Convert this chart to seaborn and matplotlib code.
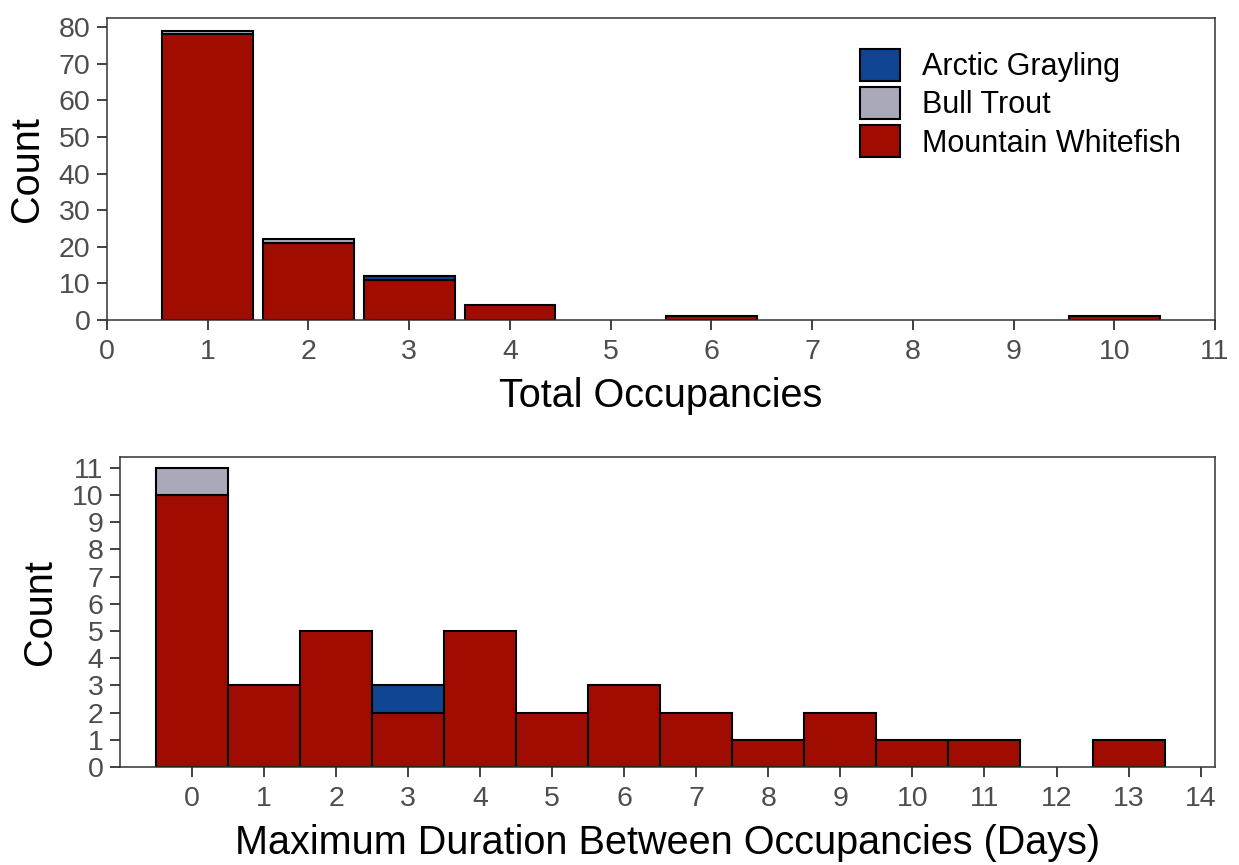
import matplotlib
matplotlib.use("Agg")
import matplotlib.pyplot as plt
import seaborn as sns
import pandas as pd
from matplotlib.patches import Patch

# ---- data ----
species = ["Arctic Grayling", "Bull Trout", "Mountain Whitefish"]
colors = ["#0F4592", "#A9A9BA", "#A00D00"]

occ_values = [1, 2, 3, 4, 6, 10]
occ_mw = [78, 21, 11, 4, 1, 1]
occ_bt = [1, 1, 0, 0, 0, 0]
occ_ag = [0, 0, 1, 0, 0, 0]

dur_values = [0, 1, 2, 3, 4, 5, 6, 7, 8, 9, 10, 11, 13]
dur_mw = [10, 3, 5, 2, 5, 2, 3, 2, 1, 2, 1, 1, 1]
dur_bt = [1, 0, 0, 0, 0, 0, 0, 0, 0, 0, 0, 0, 0]
dur_ag = [0, 0, 0, 1, 0, 0, 0, 0, 0, 0, 0, 0, 0]


def long_df(values, ag, bt, mw):
    rows = []
    for name, counts in zip(species, [ag, bt, mw]):
        for v, c in zip(values, counts):
            if c > 0:
                rows.append({"value": v, "species": name, "n": c})
    return pd.DataFrame(rows)


df_occ = long_df(occ_values, occ_ag, occ_bt, occ_mw)
df_dur = long_df(dur_values, dur_ag, dur_bt, dur_mw)

sns.set_theme(style="white")
plt.rcParams["font.family"] = ["Liberation Sans", "DejaVu Sans"]
plt.rcParams["text.color"] = "black"

fig = plt.figure(figsize=(12.39, 8.65), dpi=100)
ax1 = fig.add_axes([107 / 1239, 1 - 320 / 865, (1215 - 107) / 1239, (320 - 18) / 865])
ax2 = fig.add_axes([120 / 1239, 1 - 767 / 865, (1215 - 120) / 1239, (767 - 457) / 865])

pal = dict(zip(species, colors))

sns.histplot(data=df_occ, x="value", hue="species", weights="n", discrete=True,
             multiple="stack", shrink=0.9, hue_order=species, palette=pal,
             alpha=1, edgecolor="black", linewidth=1.5, ax=ax1, legend=False)
sns.histplot(data=df_dur, x="value", hue="species", weights="n", discrete=True,
             multiple="stack", shrink=1.0, hue_order=species, palette=pal,
             alpha=1, edgecolor="black", linewidth=1.5, ax=ax2, legend=False)

for ax in (ax1, ax2):
    for p in ax.patches:
        if p.get_height() == 0:
            p.set_visible(False)

tick_color = "#4D4D4D"
for ax in (ax1, ax2):
    for s in ax.spines.values():
        s.set_visible(True)
        s.set_color("#333333")
        s.set_linewidth(1.1)
    ax.tick_params(axis="both", which="both", direction="out", length=7, width=1.3,
                   color="#333333", labelcolor=tick_color, labelsize=20.5, pad=5,
                   bottom=True, left=True)
    ax.tick_params(axis="x", pad=7)
    ax.set_ylabel("Count", fontsize=28.5, color="black", labelpad=9)

ax1.set_xlim(0, 11)
ax1.set_xticks(range(0, 12))
ax1.set_ylim(0, 82.5)
ax1.set_yticks(range(0, 81, 10))
ax1.set_xlabel("Total Occupancies", fontsize=28.5, color="black", labelpad=8)

ax2.set_xlim(-1.0, 14.2)
ax2.set_xticks(range(0, 15))
ax2.set_ylim(0, 11.4)
ax2.set_yticks(range(0, 12))
ax2.set_xlabel("Maximum Duration Between Occupancies (Days)", fontsize=28.5,
               color="black", labelpad=8)

handles = [Patch(facecolor=c, edgecolor="black", linewidth=1.5) for c in colors]
leg = ax1.legend(handles, species, loc="upper left", bbox_to_anchor=(0.680, 0.898),
                 frameon=False, fontsize=22, handlelength=1.3, handleheight=1.24,
                 handletextpad=0.7, labelspacing=0.16, borderaxespad=0, borderpad=0)
for t in leg.get_texts():
    t.set_color("black")

fig.savefig("out.png", dpi=100)
